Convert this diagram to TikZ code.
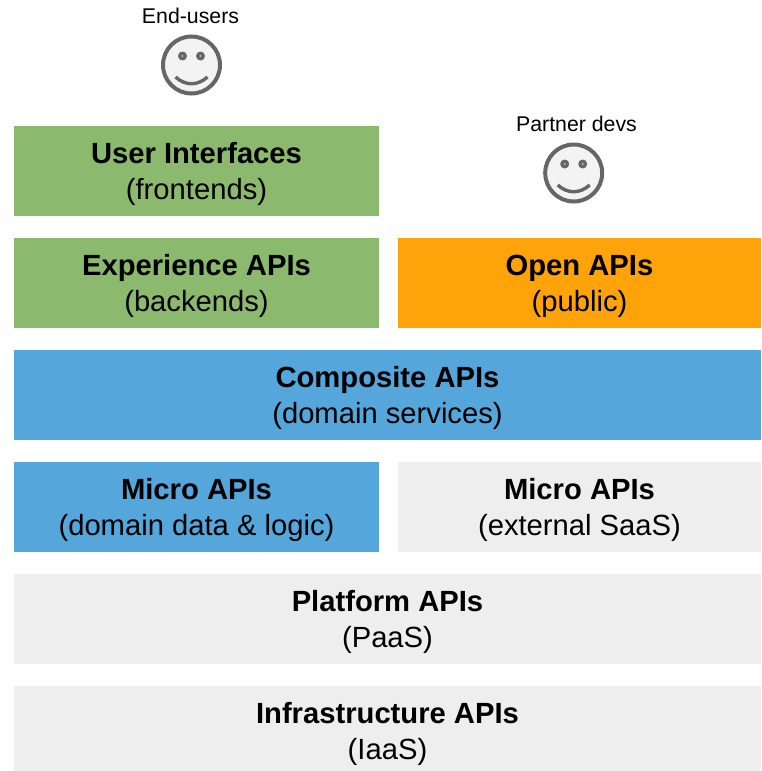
\documentclass[tikz,border=0pt]{standalone}
\usepackage{fontspec}
\setmainfont{Liberation Sans}
\definecolor{gr}{HTML}{8BB96E}
\definecolor{bl}{HTML}{55A6DA}
\definecolor{og}{HTML}{FFA30A}
\definecolor{lg}{HTML}{EEEEEE}
\definecolor{fc}{HTML}{666666}
\definecolor{ff}{HTML}{F3F3F3}
\tikzset{x=1pt,y=-1pt,
 blk/.style={draw=none,inner sep=0pt,align=center,font=\fontsize{29.2}{36}\selectfont},
 lbl/.style={inner sep=0pt,font=\fontsize{21.3}{24}\selectfont,text=black},
 face/.style={circle,minimum size=57pt,inner sep=0pt,line width=4pt,draw=fc,fill=ff}}
\newcommand{\smiley}[3]{%
 \node[face] (#1) at (#2,#3) {};
 \fill[fc] (#2-9,#3-9) circle (4.5);
 \fill[fc] (#2+9,#3-9) circle (4.5);
 \fill[lg!60!fc] (#2-9,#3-9) circle (1.2);
 \fill[lg!60!fc] (#2+9,#3-9) circle (1.2);
 \draw[fc,line width=3.4pt] (#2-16,#3+12) .. controls (#2-6,#3+21) and (#2+6,#3+21) .. (#2+16,#3+12);}
\begin{document}
\begin{tikzpicture}
\useasboundingbox (0,0) rectangle (761,771);
\fill[gr] (14,126) rectangle (379,216);
\node[blk] (ui) at (196.5,174) {\textbf{User Interfaces}\\(frontends)};
\fill[gr] (14,238) rectangle (379,328);
\node[blk] (exp) at (196.5,286) {\textbf{Experience APIs}\\(backends)};
\fill[og] (398,238) rectangle (761,328);
\node[blk] (open) at (579.5,286) {\textbf{Open APIs}\\(public)};
\fill[bl] (14,350) rectangle (761,440);
\node[blk] (comp) at (387.5,398) {\textbf{Composite APIs}\\(domain services)};
\fill[bl] (14,462) rectangle (379,552);
\node[blk] (mi) at (196.5,510) {\textbf{Micro APIs}\\(domain data \& logic)};
\fill[lg] (398,462) rectangle (761,552);
\node[blk] (mx) at (579.5,510) {\textbf{Micro APIs}\\(external SaaS)};
\fill[lg] (14,574) rectangle (761,664);
\node[blk] (pl) at (387.5,622) {\textbf{Platform APIs}\\(PaaS)};
\fill[lg] (14,686) rectangle (761,771);
\node[blk] (inf) at (387.5,734) {\textbf{Infrastructure APIs}\\(IaaS)};
\node[lbl] (eu) at (190.5,16) {End-users};
\node[lbl] (pd) at (576.5,124) {Partner devs};
\smiley{s1}{191.5}{65}
\smiley{s2}{573.7}{173}
\end{tikzpicture}
\end{document}
